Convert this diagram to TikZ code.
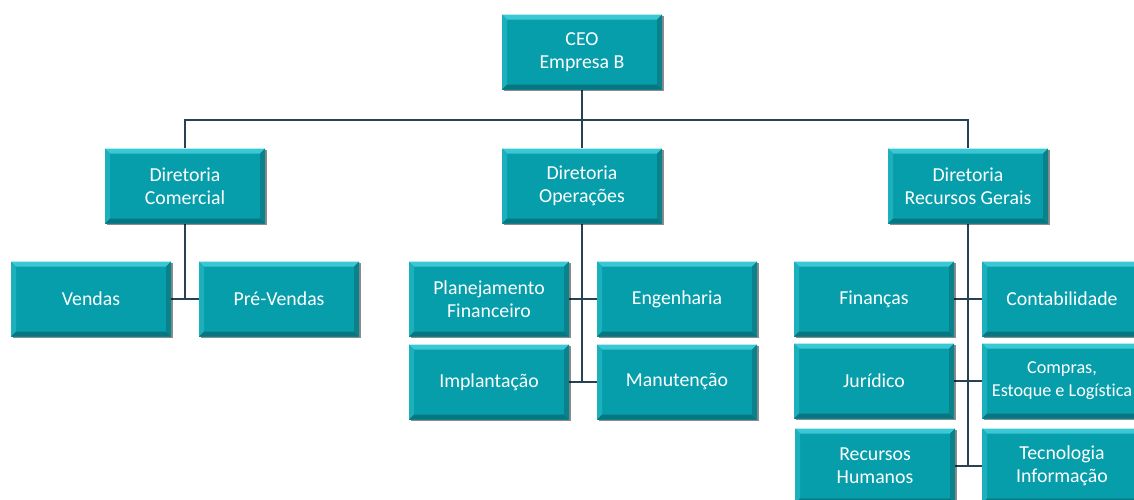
\documentclass[tikz,border=0pt]{standalone}
\usepackage{fontspec}
\setmainfont{Carlito}[Ligatures={NoCommon}]
\usetikzlibrary{shadows}
\definecolor{boxfill}{RGB}{6,158,170}
\definecolor{bevtop}{RGB}{58,200,212}
\definecolor{bevleft}{RGB}{28,176,188}
\definecolor{bevbot}{RGB}{8,118,128}
\definecolor{bevright}{RGB}{10,130,140}
\definecolor{wire}{RGB}{40,66,82}
\pgfdeclarelayer{background}
\pgfsetlayers{background,main}
\tikzset{
  unit/.style={
    rectangle, minimum width=160pt, minimum height=75pt, inner sep=0pt,
    fill=boxfill, text=white, align=center,
    font=\fontsize{19.8}{23}\selectfont,
    drop shadow={shadow xshift=1.5pt, shadow yshift=-1.5pt, fill=black, opacity=0.45},
    path picture={
      \coordinate (nw) at (path picture bounding box.north west);
      \coordinate (ne) at (path picture bounding box.north east);
      \coordinate (sw) at (path picture bounding box.south west);
      \coordinate (se) at (path picture bounding box.south east);
      \fill[bevtop] (nw) -- (ne) -- ([xshift=-5pt,yshift=-5pt]ne) -- ([xshift=5pt,yshift=-5pt]nw) -- cycle;
      \fill[bevleft] (nw) -- (sw) -- ([xshift=5pt,yshift=5pt]sw) -- ([xshift=5pt,yshift=-5pt]nw) -- cycle;
      \fill[bevbot] (sw) -- (se) -- ([xshift=-5pt,yshift=5pt]se) -- ([xshift=5pt,yshift=5pt]sw) -- cycle;
      \fill[bevright] (ne) -- (se) -- ([xshift=-5pt,yshift=5pt]se) -- ([xshift=-5pt,yshift=-5pt]ne) -- cycle;
    }
  },
  small/.style={font=\fontsize{18.2}{23}\selectfont},
  link/.style={draw=wire, line width=1.4pt}
}
\begin{document}
\begin{tikzpicture}[x=1pt,y=-1pt]
\useasboundingbox (0,0) rectangle (1134,499);
\begin{scope}
\clip (0,0) rectangle (1134,499);
% top level
\node[unit] (ceo) at (582,52) {CEO\\Empresa B};
% directorates
\node[unit] (dc)  at (185,186) {Diretoria\\Comercial};
\node[unit] (dop) at (582,186) {Diretoria\\Operações};
\node[unit] (drg) at (968,186) {Diretoria\\Recursos Gerais};
% commercial
\node[unit] (ven) at (91,299)  {Vendas};
\node[unit] (pv)  at (279,299) {Pré-Vendas};
% operations
\node[unit] (plan) at (489,299) {Planejamento\\Financeiro};
\node[unit] (eng)  at (677,299) {Engenharia};
\node[unit] (imp)  at (489,382) {Implantação};
\node[unit] (man)  at (677,382) {Manutenção};
% general resources
\node[unit] (fin)  at (874,299)  {Finanças};
\node[unit] (cont) at (1062,299) {Contabilidade};
\node[unit] (jur)  at (874,381)  {Jurídico};
\node[unit, small] (comp) at (1062,381) {Compras,\\Estoque e Logística};
\node[unit] (rh)   at (875,466)  {Recursos\\Humanos};
\node[unit] (tec)  at (1062,466) {Tecnologia\\Informação};
\coordinate (bus) at (582,120);
\begin{pgfonlayer}{background}
  \draw[link] (ceo.south) -- (bus);
  \draw[link] (bus) -| (dc.north);
  \draw[link] (bus) -| (drg.north);
  \draw[link] (bus) -- (dop.north);
  % commercial branch
  \draw[link] (dc.south) -- (dc.south |- ven.east);
  \draw[link] (ven.east) -- (pv.west);
  % operations branch
  \draw[link] (dop.south) -- (dop.south |- imp.east);
  \draw[link] (plan.east) -- (eng.west);
  \draw[link] (imp.east) -- (man.west);
  % general resources branch
  \draw[link] (drg.south) -- (drg.south |- rh.east);
  \draw[link] (fin.east) -- (cont.west);
  \draw[link] (jur.east) -- (comp.west);
  \draw[link] (rh.east) -- (tec.west);
\end{pgfonlayer}
\end{scope}
\end{tikzpicture}
\end{document}
